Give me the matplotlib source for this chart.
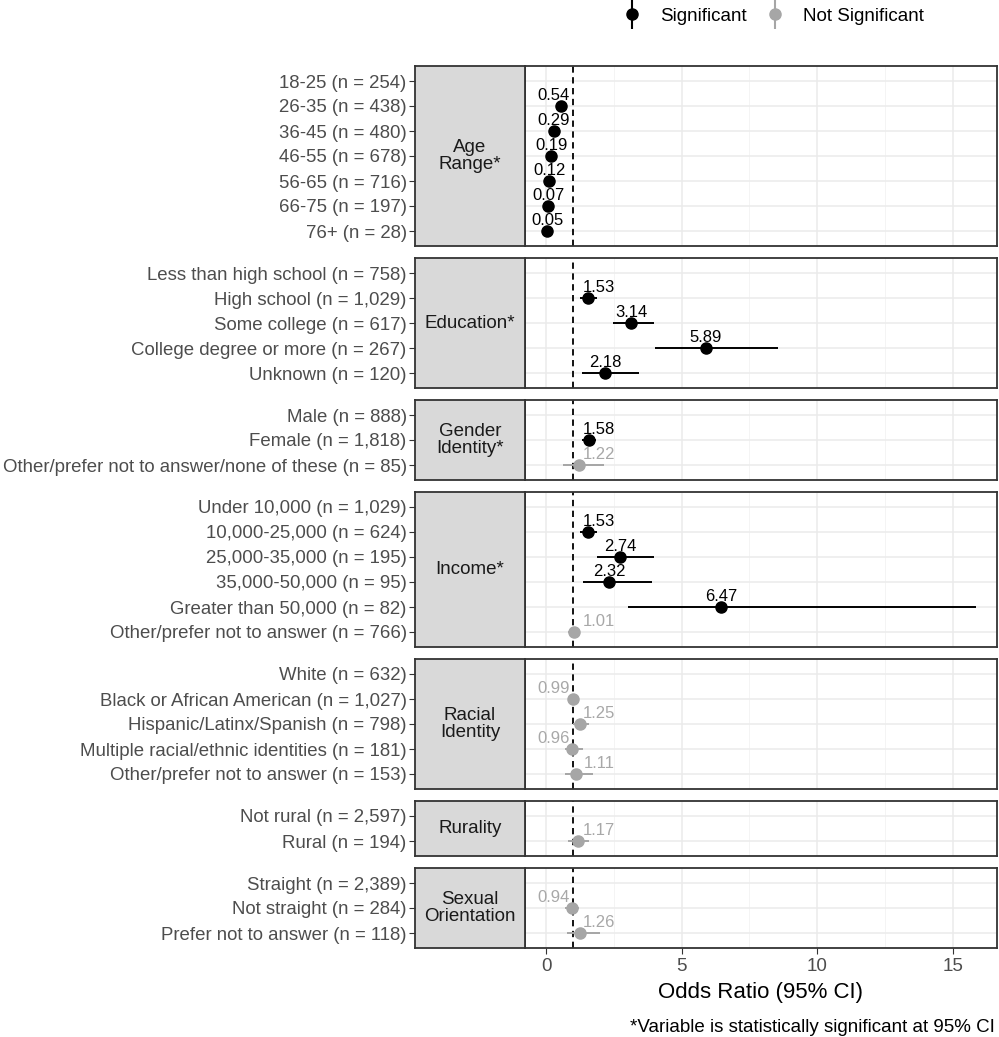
import numpy as np
import matplotlib
matplotlib.use("Agg")
import matplotlib.pyplot as plt
from matplotlib.lines import Line2D

plt.rcParams['font.family'] = ['Liberation Sans', 'DejaVu Sans']

nan = np.nan

groups = ["Age\nRange*", "Education*", "Gender\nIdentity*", "Income*",
          "Racial\nIdentity", "Rurality", "Sexual\nOrientation"]

row_group = [0] * 7 + [1] * 5 + [2] * 3 + [3] * 6 + [4] * 5 + [5] * 2 + [6] * 3

row_labels = [
    "18-25 (n = 254)", "26-35 (n = 438)", "36-45 (n = 480)", "46-55 (n = 678)",
    "56-65 (n = 716)", "66-75 (n = 197)", "76+ (n = 28)",
    "Less than high school (n = 758)", "High school (n = 1,029)",
    "Some college (n = 617)", "College degree or more (n = 267)", "Unknown (n = 120)",
    "Male (n = 888)", "Female (n = 1,818)",
    "Other/prefer not to answer/none of these (n = 85)",
    "Under 10,000 (n = 1,029)", "10,000-25,000 (n = 624)", "25,000-35,000 (n = 195)",
    "35,000-50,000 (n = 95)", "Greater than 50,000 (n = 82)",
    "Other/prefer not to answer (n = 766)",
    "White (n = 632)", "Black or African American (n = 1,027)",
    "Hispanic/Latinx/Spanish (n = 798)", "Multiple racial/ethnic identities (n = 181)",
    "Other/prefer not to answer (n = 153)",
    "Not rural (n = 2,597)", "Rural (n = 194)",
    "Straight (n = 2,389)", "Not straight (n = 284)", "Prefer not to answer (n = 118)",
]

odds = [nan, 0.54, 0.29, 0.19, 0.12, 0.07, 0.05,
        nan, 1.53, 3.14, 5.89, 2.18,
        nan, 1.58, 1.22,
        nan, 1.53, 2.74, 2.32, 6.47, 1.01,
        nan, 0.99, 1.25, 0.96, 1.11,
        nan, 1.17,
        nan, 0.94, 1.26]

ci_low = [nan, 0.40, 0.22, 0.14, 0.09, 0.05, 0.02,
          nan, 1.25, 2.47, 4.02, 1.33,
          nan, 1.32, 0.63,
          nan, 1.25, 1.88, 1.37, 3.03, 0.80,
          nan, 0.82, 0.98, 0.68, 0.70,
          nan, 0.81,
          nan, 0.70, 0.77]

ci_high = [nan, 0.72, 0.39, 0.26, 0.17, 0.10, 0.10,
           nan, 1.88, 3.99, 8.56, 3.43,
           nan, 1.84, 2.14,
           nan, 1.88, 3.99, 3.91, 15.85, 1.22,
           nan, 1.18, 1.59, 1.37, 1.73,
           nan, 1.59,
           nan, 1.22, 1.99]

significant = [False, True, True, True, True, True, True,
               False, True, True, True, True,
               False, True, False,
               False, True, True, True, True, False,
               False, False, False, False, False,
               False, False,
               False, False, False]

x_ticks = [0, 5, 10, 15]
x_minor = [2.5, 7.5, 12.5]

SIG_COL = "#000000"
NS_COL = "#A6A6A6"
NS_TXT = "#A8A8A8"

W, H = 999, 1037
fig = plt.figure(figsize=(W / 100, H / 100), dpi=100)

top = 66.0
unit = 25.0
gap = 12.0
strip_l, strip_r, panel_r = 415, 525, 997
xlim = (-0.78, 16.64)

for gi, gname in enumerate(groups):
    idx = [k for k in range(len(row_group)) if row_group[k] == gi]
    n = len(idx)
    h = (n - 1 + 1.2) * unit
    bottom = 1 - (top + h) / H
    ax = fig.add_axes([strip_r / W, bottom, (panel_r - strip_r) / W, h / H])
    sax = fig.add_axes([strip_l / W, bottom, (strip_r - strip_l) / W, h / H])

    ylim = (n - 1 + 0.6, -0.6)
    ax.set_xlim(*xlim)
    ax.set_ylim(*ylim)
    ax.set_xticks(x_ticks)
    ax.set_xticks(x_minor, minor=True)
    ax.set_yticks(range(n))
    ax.grid(which='major', color='#EBEBEB', lw=1.1)
    ax.grid(which='minor', axis='x', color='#F2F2F2', lw=0.6)
    ax.set_axisbelow(True)
    for s in ax.spines.values():
        s.set_color('#333333')
        s.set_linewidth(1.3)

    ax.axvline(1, color='black', ls=(0, (3.5, 2.5)), lw=1.3, zorder=2)

    for j, k in enumerate(idx):
        v = odds[k]
        if np.isnan(v):
            continue
        col = SIG_COL if significant[k] else NS_COL
        tcol = SIG_COL if significant[k] else NS_TXT
        ax.plot([ci_low[k], ci_high[k]], [j, j], color=col, lw=1.4,
                solid_capstyle='butt', zorder=3)
        ax.plot([v], [j], 'o', ms=8, color=col, zorder=4)
        labx = min(v, 0.26) if v < 1 else max(v, 1.96)
        ax.text(labx, j - 0.42, f"{v:.2f}", ha='center', va='center',
                color=tcol, fontsize=12, zorder=5)

    last = gi == len(groups) - 1
    ax.tick_params(axis='y', left=False, labelleft=False)
    ax.tick_params(axis='x', which='both', bottom=last, labelbottom=last,
                   length=4, color='#333333', labelcolor='#4D4D4D', labelsize=13.5)
    ax.tick_params(axis='x', which='minor', bottom=False)

    sax.set_facecolor('#D9D9D9')
    sax.set_xlim(0, 1)
    sax.set_ylim(*ylim)
    sax.set_xticks([])
    sax.set_yticks(range(n))
    sax.set_yticklabels([row_labels[k] for k in idx])
    sax.tick_params(axis='y', length=4, color='#333333', labelcolor='#4D4D4D',
                    labelsize=13.4, pad=2)
    for s in sax.spines.values():
        s.set_color('#333333')
        s.set_linewidth(1.3)
    sax.text(0.5, 0.5, gname, transform=sax.transAxes, ha='center', va='center',
             fontsize=13.5, color='#1A1A1A', linespacing=1.0)

    if last:
        ax.set_xlabel("Odds Ratio (95% CI)", fontsize=16, color='black', labelpad=5)

    top += h + gap

fig.text(995 / W, 1 - 1027 / H, "*Variable is statistically significant at 95% CI",
         ha='right', va='center', fontsize=13.5, color='black')

handles = [
    (Line2D([], [], marker='|', ms=22, mew=1.5, color=SIG_COL, ls='None'),
     Line2D([], [], marker='o', ms=8, color=SIG_COL, ls='None')),
    (Line2D([], [], marker='|', ms=22, mew=1.5, color=NS_COL, ls='None'),
     Line2D([], [], marker='o', ms=8, color=NS_COL, ls='None')),
]
fig.legend(handles, ["Significant", "Not Significant"], loc='center',
           bbox_to_anchor=(772 / W, 1 - 16 / H), ncol=2, frameon=False,
           fontsize=13.5, handlelength=1.2, columnspacing=0.9, handletextpad=0.9)

fig.savefig("out.png", dpi=100)
